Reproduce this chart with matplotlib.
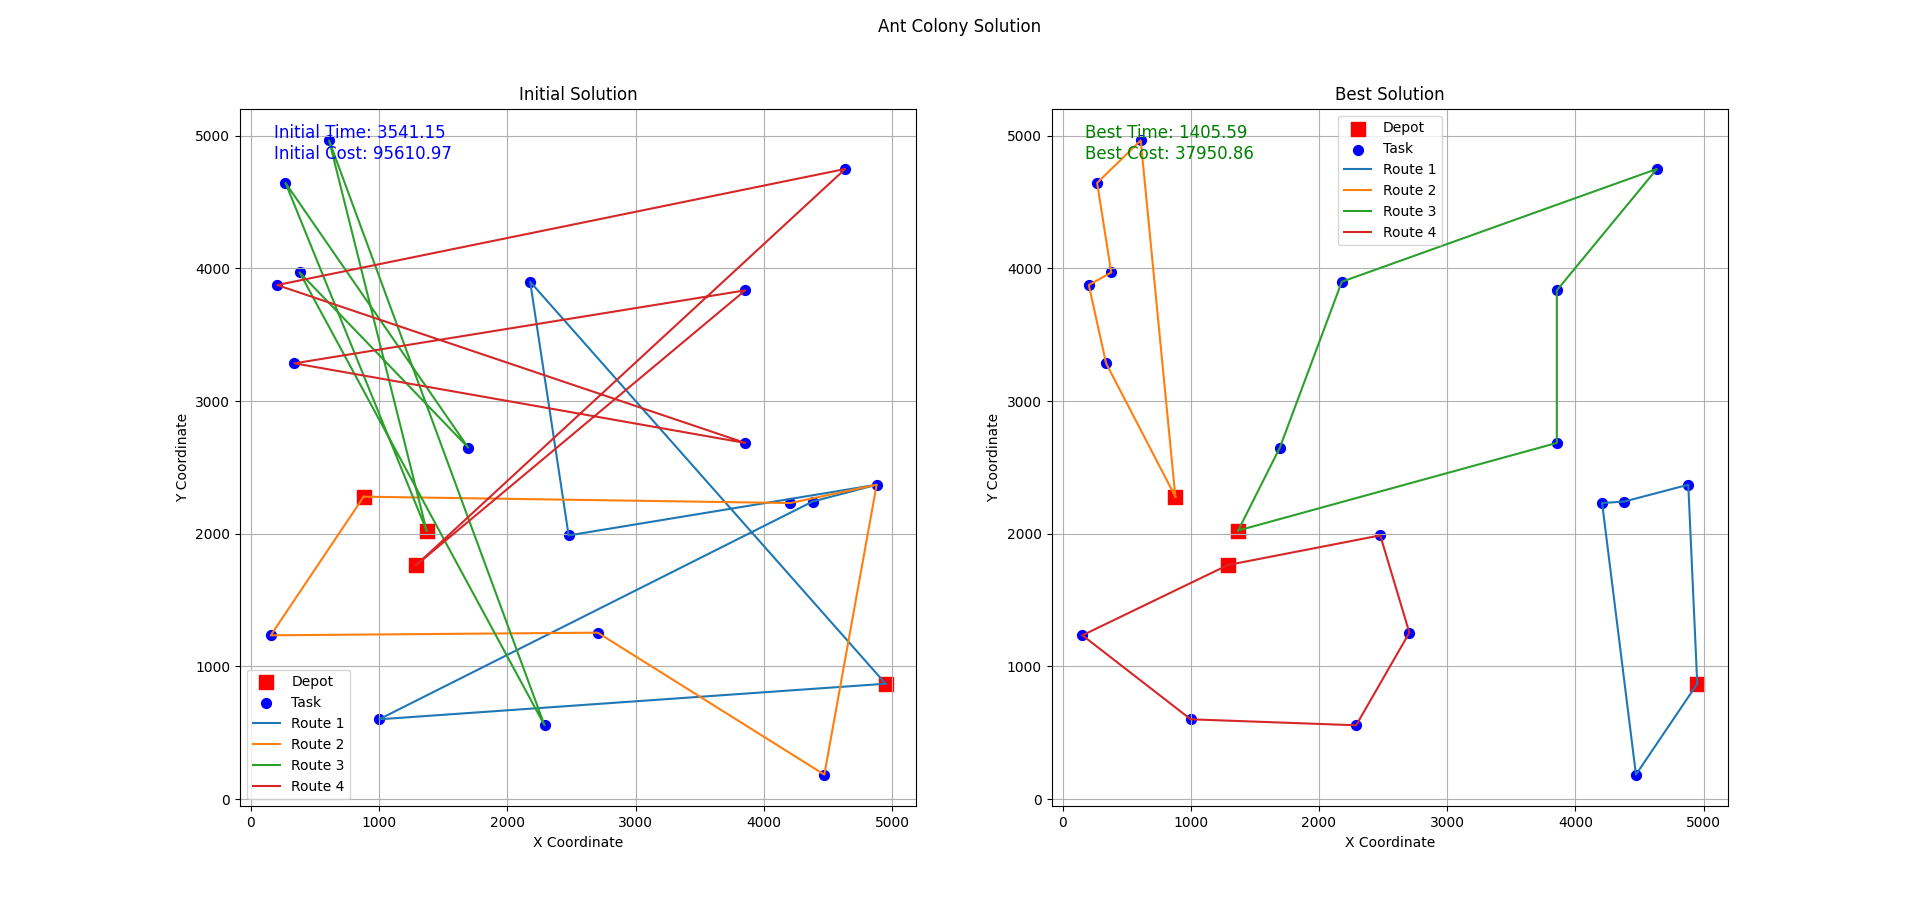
import matplotlib
matplotlib.use("Agg")
import matplotlib.pyplot as plt

# depots and tasks
depot_x = [880, 1370, 1290, 4950]
depot_y = [2280, 2025, 1765, 870]

task_x = [270, 610, 380, 205, 340, 1695, 2178, 4635, 3855, 3855,
          2478, 2705, 155, 1000, 2290, 4472, 4880, 4380, 4208]
task_y = [4645, 4965, 3970, 3875, 3285, 2650, 3900, 4750, 3835, 2685,
          1988, 1255, 1235, 602, 557, 185, 2370, 2243, 2232]

# routes: "D<n>" is a depot, an int is a task index
initial_routes = [
    ["D3", 6, 10, 16, 17, 13, "D3"],
    ["D0", 12, 11, 15, 16, 18, "D0"],
    ["D1", 0, 5, 2, 14, 1, "D1"],
    ["D2", 7, 3, 9, 4, 8, "D2"],
]
best_routes = [
    ["D3", 16, 17, 18, 15, "D3"],
    ["D0", 1, 0, 2, 3, 4, "D0"],
    ["D1", 5, 6, 7, 8, 9, "D1"],
    ["D2", 10, 11, 14, 13, 12, "D2"],
]

initial_time, initial_cost = 3541.15, 95610.97
best_time, best_cost = 1405.59, 37950.86


def coords(node):
    if isinstance(node, str):
        i = int(node[1:])
        return depot_x[i], depot_y[i]
    return task_x[node], task_y[node]


def draw(ax, routes, title, txt, color):
    ax.scatter(depot_x, depot_y, c='red', marker='s', s=100, label='Depot')
    ax.scatter(task_x, task_y, c='blue', s=50, label='Task')
    for k, r in enumerate(routes):
        xs = [coords(n)[0] for n in r]
        ys = [coords(n)[1] for n in r]
        ax.plot(xs, ys, label=f'Route {k + 1}')
    ax.set_title(title)
    ax.set_xlabel('X Coordinate')
    ax.set_ylabel('Y Coordinate')
    ax.grid(True)
    ax.legend(loc='best')
    ax.text(0.05, 0.95, txt, transform=ax.transAxes, color=color,
            fontsize=12, va='center')


fig, (ax1, ax2) = plt.subplots(1, 2, figsize=(19.2, 9.06), dpi=100)
fig.suptitle('Ant Colony Solution')
draw(ax1, initial_routes, 'Initial Solution',
     f'Initial Time: {initial_time:.2f}\nInitial Cost: {initial_cost:.2f}', 'blue')
draw(ax2, best_routes, 'Best Solution',
     f'Best Time: {best_time:.2f}\nBest Cost: {best_cost:.2f}', 'green')
fig.savefig('out.png', dpi=100)
